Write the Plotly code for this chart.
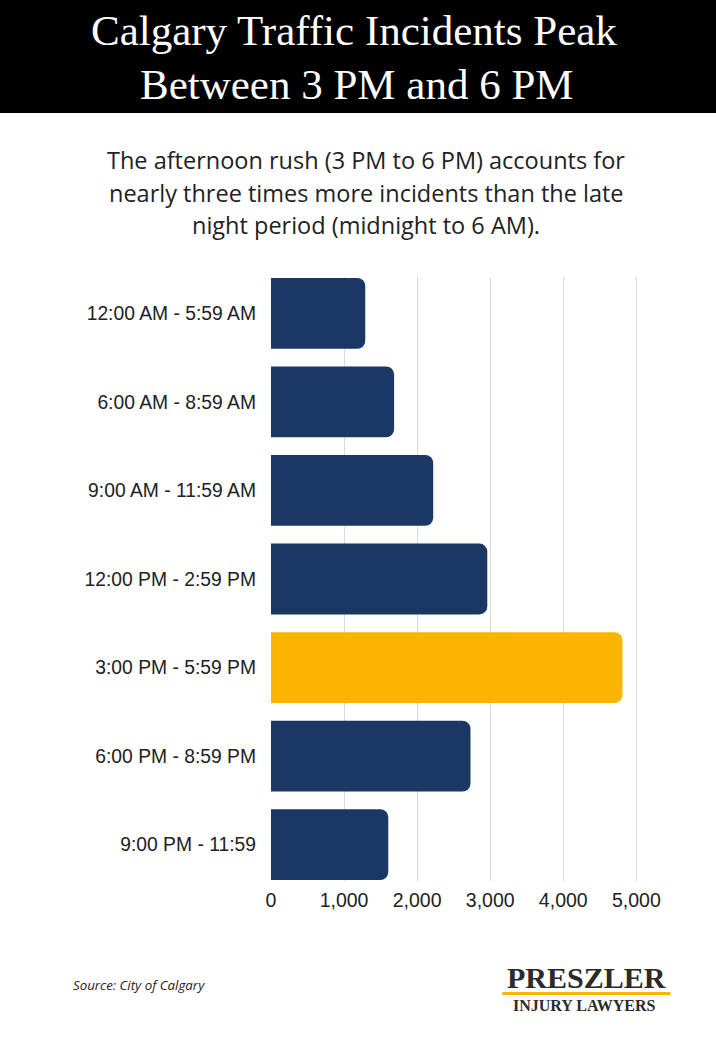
import plotly.graph_objects as go

categories = ["12:00 AM - 5:59 AM", "6:00 AM - 8:59 AM", "9:00 AM - 11:59 AM",
              "12:00 PM - 2:59 PM", "3:00 PM - 5:59 PM", "6:00 PM - 8:59 PM",
              "9:00 PM - 11:59"]
incidents = [1290, 1685, 2220, 2960, 4810, 2730, 1605]
highlight = "3:00 PM - 5:59 PM"
tick_vals = [0, 1000, 2000, 3000, 4000, 5000]
tick_text = ["0", "1,000", "2,000", "3,000", "4,000", "5,000"]

NAVY = "#1B3763"
GOLD = "#FBB400"
colors = [GOLD if c == highlight else NAVY for c in categories]

W, H = 716, 1058
L, R, T, B = 271, 639.65, 277, 881

def px(x):
    return (x - L) / (R - L)

def py(y):
    return (B - y) / (B - T)

fig = go.Figure(go.Bar(
    x=incidents, y=categories, orientation="h",
    marker=dict(color=colors, line=dict(width=0)),
    hoverinfo="x+y",
))

fig.update_layout(
    width=W, height=H,
    margin=dict(l=L, r=W - R, t=T, b=H - B, pad=0),
    paper_bgcolor="white", plot_bgcolor="white",
    showlegend=False,
    barcornerradius=8,
    font=dict(family="Liberation Sans, Arial, sans-serif", color="#222"),
)

fig.update_xaxes(range=[0, 5050], tickvals=tick_vals, ticktext=tick_text,
                 showgrid=True, gridcolor="#d9d9d9", gridwidth=1,
                 zeroline=False, showline=False, ticks="", ticklabelstandoff=5,
                 tickfont=dict(size=19.5, color="#222"))
fig.update_yaxes(categoryorder="array", categoryarray=categories,
                 range=[6.41, -0.41], showgrid=False, zeroline=False,
                 showline=False, ticks="", ticklabelstandoff=14,
                 tickfont=dict(size=19.3, color="#222"))

shapes = [
    dict(type="rect", xref="paper", yref="paper",
         x0=px(0), x1=px(W), y0=py(0), y1=py(113),
         fillcolor="black", line=dict(width=0), layer="below"),
    dict(type="line", xref="paper", yref="paper",
         x0=px(502), x1=px(670), y0=py(993.5), y1=py(993.5),
         line=dict(color=GOLD, width=3)),
]
fig.update_layout(shapes=shapes)

ann = []
ann.append(dict(xref="paper", yref="paper", x=px(354), y=py(30),
                text="Calgary Traffic Incidents Peak", showarrow=False,
                xanchor="center", yanchor="middle",
                font=dict(family="Liberation Serif, serif", size=43, color="white")))
ann.append(dict(xref="paper", yref="paper", x=px(357), y=py(85),
                text="Between 3 PM and 6 PM", showarrow=False,
                xanchor="center", yanchor="middle",
                font=dict(family="Liberation Serif, serif", size=43, color="white")))
sub_lines = ["The afternoon rush (3 PM to 6 PM) accounts for",
             "nearly three times more incidents than the late",
             "night period (midnight to 6 AM)."]
for i, s in enumerate(sub_lines):
    ann.append(dict(xref="paper", yref="paper", x=px(366), y=py(160 + 32.5 * i),
                    text=s, showarrow=False, xanchor="center", yanchor="middle",
                    font=dict(family="Open Sans, sans-serif", size=23.5, color="#222")))
ann.append(dict(xref="paper", yref="paper", x=px(71), y=py(985),
                text="<i>Source: City of Calgary</i>", showarrow=False,
                xanchor="left", yanchor="middle",
                font=dict(family="Open Sans, sans-serif", size=13.3, color="#222")))
ann.append(dict(xref="paper", yref="paper", x=px(586), y=py(978),
                text="<b>PRESZLER</b>", showarrow=False,
                xanchor="center", yanchor="middle",
                font=dict(family="Liberation Serif, serif", size=30, color="#2b2b2b")))
ann.append(dict(xref="paper", yref="paper", x=px(584), y=py(1005),
                text="<b>INJURY LAWYERS</b>", showarrow=False,
                xanchor="center", yanchor="middle",
                font=dict(family="Liberation Serif, serif", size=16, color="#2b2b2b")))
fig.update_layout(annotations=ann)

fig.write_html("out.html", config={"displayModeBar": False},
               post_script="document.body.style.margin='0';document.body.style.overflow='hidden';")
